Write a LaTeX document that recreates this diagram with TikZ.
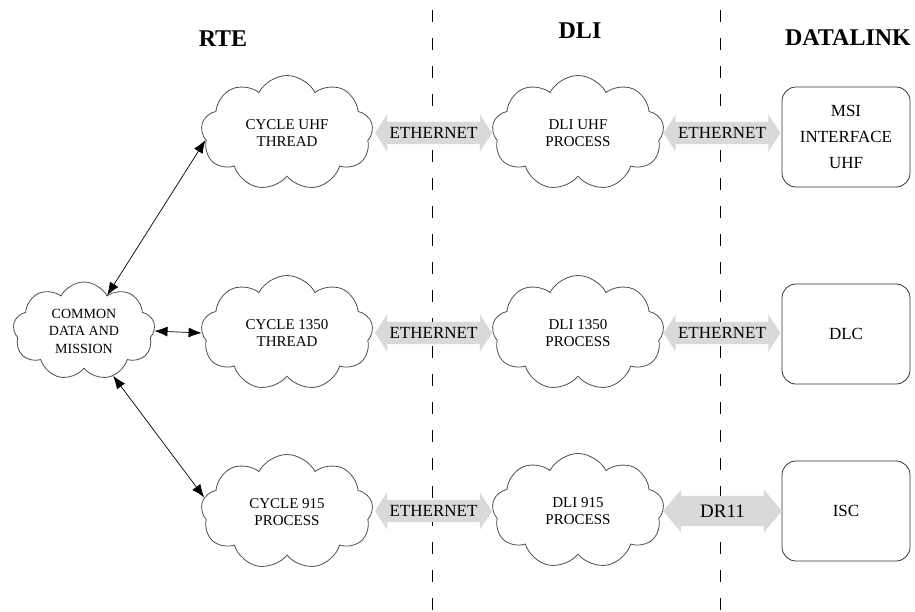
\documentclass[tikz,border=0pt]{standalone}
\usepackage{fontspec}
\setmainfont{Liberation Serif}
\usetikzlibrary{shapes.symbols,shapes.arrows,arrows.meta}
\begin{document}
\begin{tikzpicture}[x=1pt,y=-1pt,
 cloudnode/.style={cloud, cloud puffs=9, cloud puff arc=125, cloud ignores aspect, draw=black!70, line width=0.8pt, minimum width=172pt, minimum height=115pt, inner sep=0pt, align=center, font=\fontsize{15}{16.5}\selectfont},
 boxnode/.style={draw=black!80, line width=0.8pt, rounded corners=14pt, minimum width=128pt, minimum height=100pt, align=center, font=\fontsize{17}{26}\selectfont},
 link/.style={double arrow, fill=black!15, draw=none, double arrow head extend=7.5pt, double arrow tip angle=114, minimum height=117pt, inner xsep=0pt, inner ysep=5.5pt, text height=11pt, text depth=0pt, font=\fontsize{17}{17}\selectfont},
 biglink/.style={link, double arrow head extend=6pt, double arrow tip angle=99, minimum height=119pt, inner ysep=8.5pt, text height=13pt, font=\fontsize{19}{19}\selectfont},
 header/.style={font=\fontsize{24}{24}\selectfont\bfseries},
 divider/.style={line width=1pt, dash pattern=on 12pt off 16pt},
 conn/.style={{Latex[length=13pt,width=10pt]}-{Latex[length=13pt,width=10pt]}, line width=0.7pt}
]
\useasboundingbox (0,0) rectangle (915,611);

% dividers
\draw[divider] (432,10) -- (432,611);
\draw[divider] (720,10) -- (720,611);

% headers
\node[header] (hrte) at (223,39) {RTE};
\node[header] (hdli) at (580,31) {DLI};
\node[header] (hdl) at (848,38) {DATALINK};

% clouds
\node[cloudnode] (cuhf) at (287,133) {CYCLE UHF\\THREAD};
\node[cloudnode] (c1350) at (287,333) {CYCLE 1350\\THREAD};
\node[cloudnode] (c915) at (287,512) {CYCLE 915\\PROCESS};
\node[cloudnode] (duhf) at (578,133) {DLI UHF\\PROCESS};
\node[cloudnode] (d1350) at (578,333) {DLI 1350\\PROCESS};
\node[cloudnode] (d915) at (578,511) {DLI 915\\PROCESS};
\node[cloudnode, minimum width=142pt, minimum height=98pt, font=\fontsize{14}{17.5}\selectfont] (common) at (84,331) {COMMON\\DATA AND\\MISSION};

% boxes
\node[boxnode] (msi) at (846,137) {MSI\\INTERFACE\\UHF};
\node[boxnode] (dlc) at (846,334) {DLC};
\node[boxnode] (isc) at (846,511) {ISC};

% links
\node[link] (e1) at (433.5,133) {ETHERNET};
\node[link] (e2) at (722,133) {ETHERNET};
\node[link] (e3) at (433.5,333) {ETHERNET};
\node[link] (e4) at (722,333) {ETHERNET};
\node[link] (e5) at (433.5,511) {ETHERNET};
\node[biglink] (dr) at (722.5,511) {DR11};

% connectors
\draw[conn] (common.57) -- (cuhf.185);
\draw[conn] (common.east) -- (c1350.west);
\draw[conn] (common.303) -- (c915.170);
\end{tikzpicture}
\end{document}
